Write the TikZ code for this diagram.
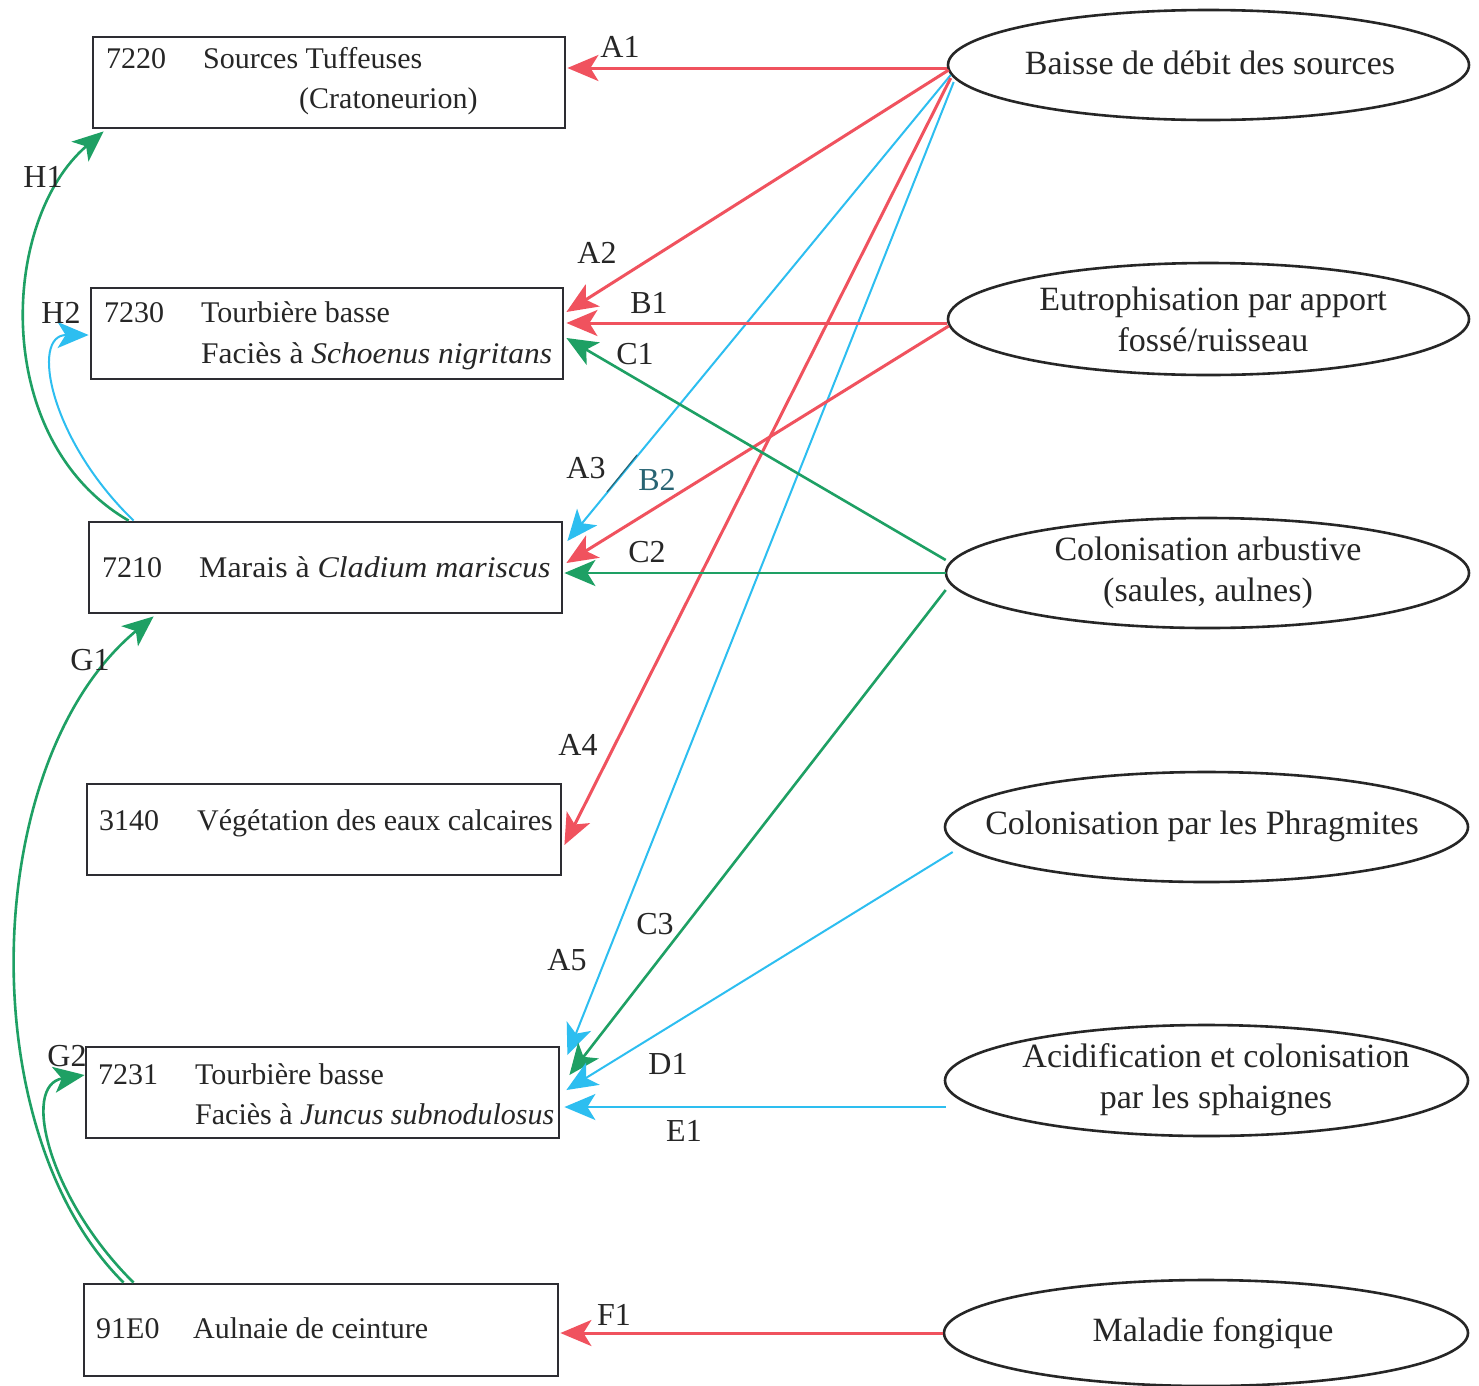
\documentclass[tikz,border=0pt]{standalone}
\usepackage{fontspec}
\setmainfont{Liberation Serif}
\usetikzlibrary{arrows.meta,calc,shapes.geometric}
\definecolor{cred}{RGB}{240,82,94}
\definecolor{cblue}{RGB}{45,190,240}
\definecolor{cgreen}{RGB}{30,160,100}
\definecolor{cteal}{RGB}{40,100,115}
\definecolor{cframe}{RGB}{45,45,50}
\begin{document}
\begin{tikzpicture}[x=1pt,y=-1pt,
  every node/.style={font=\fontsize{30}{40}\selectfont, inner sep=0pt, text=black!85},
  habbox/.style={draw=cframe, line width=2.8pt, minimum height=91pt},
  thr/.style={draw=black!85, line width=2.6pt, ellipse, minimum width=521pt, minimum height=110pt},
  thrtxt/.style={align=center, font=\fontsize{34}{41}\selectfont},
  boxtxt/.style={anchor=base west},
  lbl/.style={anchor=center, font=\fontsize{32}{38}\selectfont},
  tip/.style={-{Stealth[length=31pt,width=26pt,inset=8pt]}},
  redar/.style={tip, draw=cred, line width=3pt},
  bluar/.style={tip, draw=cblue, line width=2pt},
  grnar/.style={tip, draw=cgreen, line width=2.6pt}
]
\useasboundingbox (0,0) rectangle (1479,1385);
\fill[white] (0,0) rectangle (1479,1385);

% habitat boxes
\node[habbox, minimum width=472pt] (b7220) at (329,82.5) {};
\node[habbox, minimum width=472pt] (b7230) at (327,333.5) {};
\node[habbox, minimum width=473pt] (b7210) at (325.5,567.5) {};
\node[habbox, minimum width=474pt] (b3140) at (324,829.5) {};
\node[habbox, minimum width=473pt] (b7231) at (322.5,1092.5) {};
\node[habbox, minimum width=474pt, minimum height=92pt] (b91E0) at (321,1330) {};

% box texts
\node[boxtxt] (t7220a) at (106,68) {7220};
\node[boxtxt] (t7220b) at (203,68) {Sources Tuffeuses};
\node[boxtxt] (t7220c) at (299,108) {(Cratoneurion)};
\node[boxtxt] (t7230a) at (104,322) {7230};
\node[boxtxt] (t7230b) at (201,322) {Tourbière basse};
\node[boxtxt] (t7230c) at (201,363) {\scalebox{1.05}[1]{Faciès à \textit{Schoenus nigritans}}};
\node[boxtxt] (t7210a) at (102,577) {7210};
\node[boxtxt] (t7210b) at (199,577) {\scalebox{1.062}[1]{Marais à \textit{Cladium mariscus}}};
\node[boxtxt] (t3140a) at (99,830) {3140};
\node[boxtxt] (t3140b) at (197,830) {Végétation des eaux calcaires};
\node[boxtxt] (t7231a) at (98,1084) {7231};
\node[boxtxt] (t7231b) at (195,1084) {Tourbière basse};
\node[boxtxt] (t7231c) at (195,1124) {Faciès à \textit{Juncus subnodulosus}};
\node[boxtxt] (t91E0a) at (96,1338) {91E0};
\node[boxtxt] (t91E0b) at (193,1338) {Aulnaie de ceinture};

% threat ellipses
\node[thr] (e1) at (1208.5,65) {};
\node[thr, minimum height=112pt] (e2) at (1208.5,319) {};
\node[thr, minimum width=523pt] (e3) at (1207.5,573) {};
\node[thr, minimum width=523pt] (e4) at (1206.5,827) {};
\node[thr, minimum width=523pt, minimum height=111pt] (e5) at (1206.5,1080.5) {};
\node[thr, minimum width=524pt, minimum height=106pt] (e6) at (1206,1333) {};
\node[thrtxt] (x1) at (1210,63) {Baisse de débit des sources};
\node[thrtxt] (x2) at (1213,319) {Eutrophisation par apport\\fossé/ruisseau};
\node[thrtxt] (x3) at (1208,573) {Colonisation arbustive\\(saules, aulnes)};
\node[thrtxt] (x4) at (1202,826) {Colonisation par les Phragmites};
\node[thrtxt] (x5) at (1216,1080) {Acidification et colonisation\\par les sphaignes};
\node[thrtxt] (x6) at (1213,1333) {Maladie fongique};

% connectors from threats
\draw[redar] ($(e1.west)+(0,3)$) -- ($(b7220.east)+(1,-14.5)$);
\draw[redar] ($(e1.west)+(2,5)$) -- ($(b7230.east)+(2,-21.5)$);
\draw[bluar] ($(e1.west)+(4,10)$) -- ($(b7210.east)+(4,-26.5)$);
\draw[redar] ($(e1.west)+(4,13)$) -- ($(b3140.east)+(2,15.5)$);
\draw[bluar] ($(e1.west)+(7,17)$) -- ($(b7231.east)+(7,-37.5)$);
\draw[redar] ($(e2.west)+(0,4)$) -- ($(b7230.east)+(2,-10.5)$);
\draw[redar] ($(e2.west)+(2,7)$) -- ($(b7210.east)+(3,-4.5)$);
\draw[grnar] ($(e3.west)+(1,-13)$) -- ($(b7230.east)+(2,4.5)$);
\draw[grnar] ($(e3.west)+(1,0)$) -- ($(b7210.east)+(1,5.5)$);
\draw[grnar] ($(e3.west)+(1,17)$) -- ($(b7231.east)+(9,-17.5)$);
\draw[bluar] ($(e4.west)+(9,25)$) -- ($(b7231.east)+(6,-2.5)$);
\draw[bluar] ($(e5.west)+(2,26.5)$) -- ($(b7231.east)+(4,14.5)$);
\draw[redar] (e6.west) -- ($(b91E0.east)+(1,3)$);

% connectors between habitats
\draw[grnar] ($(b7210.north west)+(41,0)$) .. controls (-10,440) and (0,220) .. ($(b7220.south west)+(12,2)$);
\draw[bluar] ($(b7210.north west)+(46,0)$) .. controls (50,440) and (30,335) .. ($(b7230.west)+(-1,1.5)$);
\draw[grnar] ($(b91E0.north west)+(41,0)$) .. controls (-30,1130) and (-20,760) .. ($(b7210.south west)+(66,2)$);
\draw[grnar] ($(b91E0.north west)+(51,0)$) .. controls (50,1200) and (20,1085) .. ($(b7231.west)+(0,-17.5)$);

% stray mark near B2
\coordinate (m1) at (607,492);
\coordinate (m2) at (637,455);
\draw[cteal, line width=1.2pt] (m1) -- (m2);

% labels
\node[lbl] (lA1) at (620,47) {A1};
\node[lbl] (lA2) at (597,253) {A2};
\node[lbl] (lB1) at (649,303) {B1};
\node[lbl] (lC1) at (635,354) {C1};
\node[lbl] (lA3) at (586,468) {A3};
\node[lbl, text=cteal] (lB2) at (657,480) {B2};
\node[lbl] (lC2) at (647,552) {C2};
\node[lbl] (lA4) at (578,745) {A4};
\node[lbl] (lC3) at (655,924) {C3};
\node[lbl] (lA5) at (567,960) {A5};
\node[lbl] (lD1) at (668,1064) {D1};
\node[lbl] (lE1) at (684,1131) {E1};
\node[lbl] (lF1) at (614,1315) {F1};
\node[lbl] (lH1) at (43,177) {H1};
\node[lbl] (lH2) at (61,313) {H2};
\node[lbl] (lG1) at (90,660) {G1};
\node[lbl] (lG2) at (67,1056) {G2};
\end{tikzpicture}
\end{document}
